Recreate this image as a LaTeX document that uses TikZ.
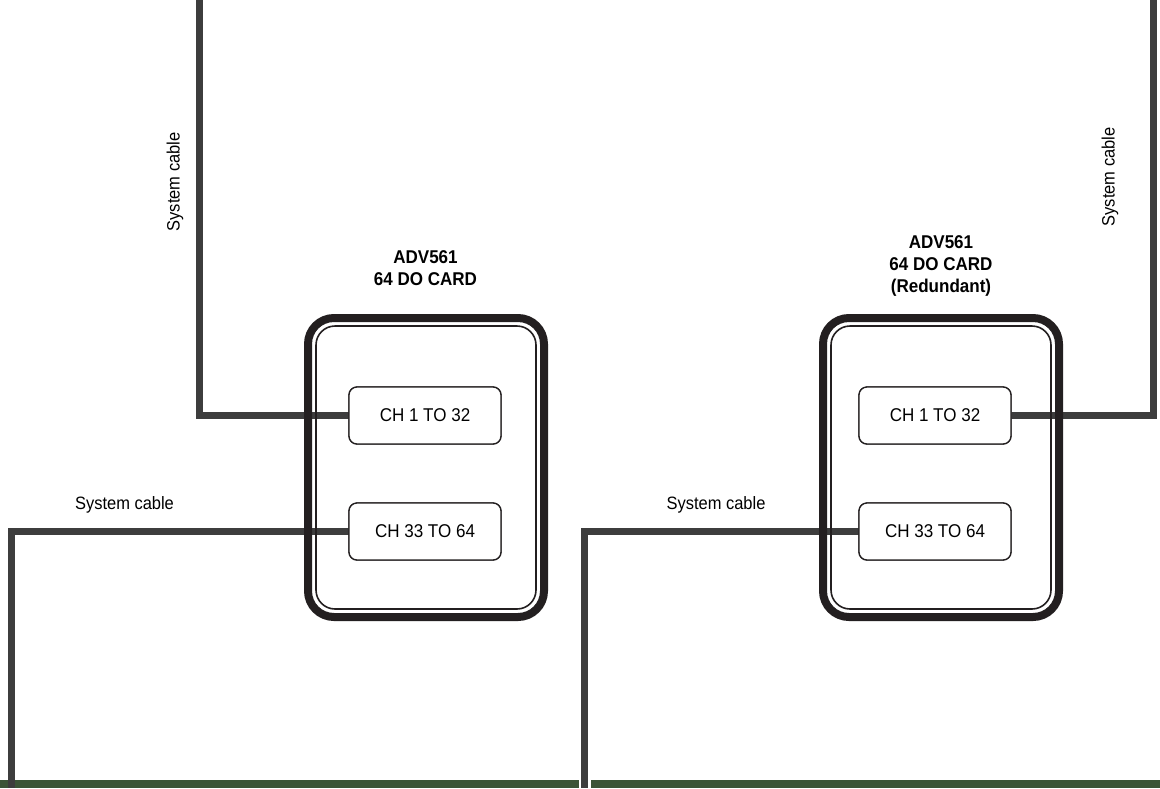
\documentclass[tikz,border=0pt]{standalone}
\usepackage{fontspec}
\setmainfont{Liberation Sans}[FakeStretch=0.92]
\definecolor{cablegray}{HTML}{3D3D3D}
\definecolor{cardblack}{HTML}{231F20}
\definecolor{bandgreen}{HTML}{3B5437}
\begin{document}
\begin{tikzpicture}[x=1pt,y=-1pt,
  cable/.style={line width=7pt, draw=cablegray},
  cardouter/.style={draw=cardblack, line width=8pt, rounded corners=26pt, minimum width=236pt, minimum height=299pt, inner sep=0pt, outer sep=0pt},
  cardinner/.style={draw=cardblack, line width=1.6pt, rounded corners=19pt, minimum width=220pt, minimum height=283pt, inner sep=0pt, outer sep=0pt},
  chbox/.style={draw=cardblack, line width=1.3pt, rounded corners=8pt, fill=white, minimum width=152pt, minimum height=57pt, inner sep=0pt, outer sep=0pt, font=\fontsize{18.5}{20}\selectfont},
  lbl/.style={font=\fontsize{17.9}{20}\selectfont, inner sep=0pt},
  ttl/.style={font=\bfseries\fontsize{18.5}{22}\selectfont, align=center, inner sep=0pt}]
\useasboundingbox (0,0) rectangle (1160,788);
% green band at the bottom
\fill[bandgreen] (0,780) rectangle (1160,788);
\fill[white] (578.5,780) rectangle (590.5,788);
% channel boxes (placed first so cables can reference them)
\node[chbox] (ch1) at (425,415.5) {CH 1 TO 32};
\node[chbox] (ch2) at (425,531.5) {CH 33 TO 64};
\node[chbox] (ch3) at (935,415.5) {CH 1 TO 32};
\node[chbox] (ch4) at (935,531.5) {CH 33 TO 64};
% cable end points
\coordinate (t1) at (199,0);
\coordinate (b1) at (11,788);
\coordinate (t2) at (1153,0);
\coordinate (b2) at (584.5,788);
% cables
\draw[cable] (ch1.west) -| (t1);
\draw[cable] (ch2.west) -| (b1);
\draw[cable] (ch3.east) -| (t2);
\draw[cable] (ch4.west) -| (b2);
% cards
\node[cardouter] (card1) at (426,467.5) {};
\node[cardinner] (card1in) at (426,467.5) {};
\node[cardouter] (card2) at (941,467.5) {};
\node[cardinner] (card2in) at (941,467.5) {};
% redraw channel boxes on top
\node[chbox] at (ch1) {CH 1 TO 32};
\node[chbox] at (ch2) {CH 33 TO 64};
\node[chbox] at (ch3) {CH 1 TO 32};
\node[chbox] at (ch4) {CH 33 TO 64};
% titles
\node[ttl] (title1) at (425.5,268) {ADV561\\64 DO CARD};
\node[ttl] (title2) at (941,265.5) {ADV561\\64 DO CARD\\(Redundant)};
% cable labels
\node[lbl, rotate=90] (s1) at (175,182) {System cable};
\node[lbl, rotate=90] (s2) at (1110,177) {System cable};
\node[lbl, anchor=base] (s3) at (124.5,509) {System cable};
\node[lbl, anchor=base] (s4) at (716,509) {System cable};
\end{tikzpicture}
\end{document}
